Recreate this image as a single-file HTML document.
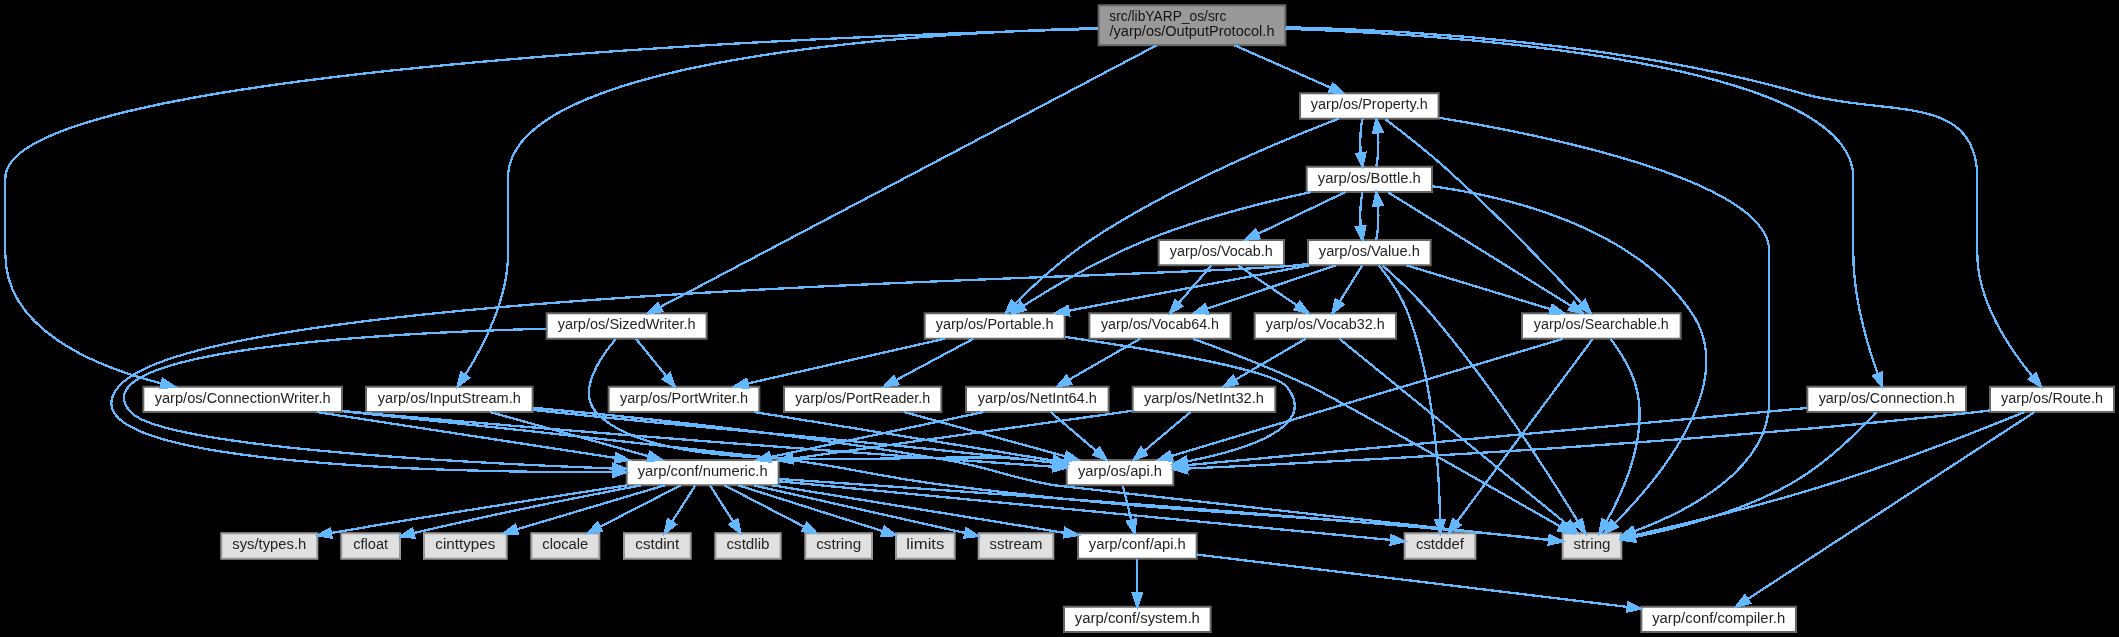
<!DOCTYPE html>
<html><head><meta charset="utf-8"><title>OutputProtocol.h include graph</title>
<style>html,body{margin:0;padding:0;background:#000;overflow:hidden}svg{display:block} text{opacity:0.999} svg{will-change:transform}</style></head>
<body><svg width="2119" height="637" viewBox="0 0 2119 637">
<rect x="0" y="0" width="2119" height="637" fill="#000"/>
<g id="graph0" class="graph" transform="scale(1.333333) translate(4 474)" shape-rendering="crispEdges" stroke-width="1.725">
<g shape-rendering="auto" stroke-width="1.5" id="node1" class="node">
<polygon fill="#999999" stroke="#666666" points="960,-470 820,-470 820,-440 960,-440 960,-470"/>
<text text-anchor="start" x="828" y="-458" font-family="Liberation Sans, sans-serif" font-size="10.90" fill="#141414" textLength="87.75" lengthAdjust="spacingAndGlyphs">src/libYARP_os/src</text>
<text text-anchor="middle" x="890" y="-447" font-family="Liberation Sans, sans-serif" font-size="10.90" fill="#141414" textLength="123.75" lengthAdjust="spacingAndGlyphs">/yarp/os/OutputProtocol.h</text>
</g>
<g shape-rendering="auto" stroke-width="1.5" id="node2" class="node">
<polygon fill="white" stroke="#666666" points="1470.5,-184 1351.5,-184 1351.5,-165 1470.5,-165 1470.5,-184"/>
<text text-anchor="middle" x="1411" y="-172" font-family="Liberation Sans, sans-serif" font-size="10.90" fill="#242424" textLength="102.00" lengthAdjust="spacingAndGlyphs">yarp/os/Connection.h</text>
</g>
<g id="edge1" class="edge">
<path fill="none" stroke="#63b8ff" d="M960.01,-452.45C1096.74,-447.51 1386,-426.85 1386,-340.5 1386,-340.5 1386,-340.5 1386,-283.5 1386,-251.21 1396.74,-214.86 1404.14,-193.64"/>
<polygon fill="#63b8ff" stroke="#63b8ff" points="1407.51,-194.62 1407.63,-184.02 1400.93,-192.23 1407.51,-194.62"/>
</g>
<g shape-rendering="auto" stroke-width="1.5" id="node8" class="node">
<polygon fill="white" stroke="#666666" points="252.5,-184 103.5,-184 103.5,-165 252.5,-165 252.5,-184"/>
<text text-anchor="middle" x="178" y="-172" font-family="Liberation Sans, sans-serif" font-size="10.90" fill="#242424" textLength="132.00" lengthAdjust="spacingAndGlyphs">yarp/os/ConnectionWriter.h</text>
</g>
<g id="edge7" class="edge">
<path fill="none" stroke="#63b8ff" d="M819.79,-452.4C609.63,-446.69 0,-423.01 0,-340.5 0,-340.5 0,-340.5 0,-283.5 0,-227.3 65.66,-199.53 117.22,-186.38"/>
<polygon fill="#63b8ff" stroke="#63b8ff" points="118.1,-189.77 126.99,-184.02 116.45,-182.97 118.1,-189.77"/>
</g>
<g shape-rendering="auto" stroke-width="1.5" id="node20" class="node">
<polygon fill="white" stroke="#666666" points="395.5,-184 270.5,-184 270.5,-165 395.5,-165 395.5,-184"/>
<text text-anchor="middle" x="333" y="-172" font-family="Liberation Sans, sans-serif" font-size="10.90" fill="#242424" textLength="107.25" lengthAdjust="spacingAndGlyphs">yarp/os/InputStream.h</text>
</g>
<g id="edge23" class="edge">
<path fill="none" stroke="#63b8ff" d="M819.75,-452.98C679.25,-449.03 377,-430.12 377,-340.5 377,-340.5 377,-340.5 377,-283.5 377,-249.42 357.97,-213.46 344.94,-192.83"/>
<polygon fill="#63b8ff" stroke="#63b8ff" points="347.72,-190.68 339.3,-184.25 341.87,-194.53 347.72,-190.68"/>
</g>
<g shape-rendering="auto" stroke-width="1.5" id="node21" class="node">
<polygon fill="white" stroke="#666666" points="1075,-404 971,-404 971,-385 1075,-385 1075,-404"/>
<text text-anchor="middle" x="1023" y="-392" font-family="Liberation Sans, sans-serif" font-size="10.90" fill="#242424" textLength="87.75" lengthAdjust="spacingAndGlyphs">yarp/os/Property.h</text>
</g>
<g id="edge27" class="edge">
<path fill="none" stroke="#63b8ff" d="M921.86,-439.99C943.85,-430.31 972.85,-417.56 994.16,-408.18"/>
<polygon fill="#63b8ff" stroke="#63b8ff" points="995.61,-411.37 1003.36,-404.14 992.8,-404.96 995.61,-411.37"/>
</g>
<g shape-rendering="auto" stroke-width="1.5" id="node33" class="node">
<polygon fill="white" stroke="#666666" points="1581.5,-184 1488.5,-184 1488.5,-165 1581.5,-165 1581.5,-184"/>
<text text-anchor="middle" x="1535" y="-172" font-family="Liberation Sans, sans-serif" font-size="10.90" fill="#242424" textLength="76.50" lengthAdjust="spacingAndGlyphs">yarp/os/Route.h</text>
</g>
<g id="edge64" class="edge">
<path fill="none" stroke="#63b8ff" d="M960.31,-453.64C1051.28,-451.52 1213.87,-442.09 1347,-404 1409.59,-386.09 1479,-405.6 1479,-340.5 1479,-340.5 1479,-340.5 1479,-283.5 1479,-247.65 1503.62,-211.86 1520.21,-191.81"/>
<polygon fill="#63b8ff" stroke="#63b8ff" points="1522.87,-194.09 1526.74,-184.23 1517.56,-189.52 1522.87,-194.09"/>
</g>
<g shape-rendering="auto" stroke-width="1.5" id="node34" class="node">
<polygon fill="white" stroke="#666666" points="526,-239 406,-239 406,-220 526,-220 526,-239"/>
<text text-anchor="middle" x="466" y="-227" font-family="Liberation Sans, sans-serif" font-size="10.90" fill="#242424" textLength="103.50" lengthAdjust="spacingAndGlyphs">yarp/os/SizedWriter.h</text>
</g>
<g id="edge68" class="edge">
<path fill="none" stroke="#63b8ff" d="M863.16,-439.85C786.33,-399.35 566.29,-283.37 491.35,-243.86"/>
<polygon fill="#63b8ff" stroke="#63b8ff" points="492.64,-240.59 482.16,-239.02 489.38,-246.78 492.64,-240.59"/>
</g>
<g shape-rendering="auto" stroke-width="1.5" id="node3" class="node">
<polygon fill="white" stroke="#666666" points="876,-129 796,-129 796,-110 876,-110 876,-129"/>
<text text-anchor="middle" x="836" y="-117" font-family="Liberation Sans, sans-serif" font-size="10.90" fill="#242424" textLength="63.00" lengthAdjust="spacingAndGlyphs">yarp/os/api.h</text>
</g>
<g id="edge2" class="edge">
<path fill="none" stroke="#63b8ff" d="M1351.36,-168C1237.79,-157.53 992.34,-134.91 886.39,-125.14"/>
<polygon fill="#63b8ff" stroke="#63b8ff" points="886.56,-121.65 876.28,-124.21 885.91,-128.62 886.56,-121.65"/>
</g>
<g shape-rendering="auto" stroke-width="1.5" id="node7" class="node">
<polygon fill="#e0e0e0" stroke="#999999" points="1212,-74 1168,-74 1168,-55 1212,-55 1212,-74"/>
<text text-anchor="middle" x="1190" y="-62" font-family="Liberation Sans, sans-serif" font-size="10.90" fill="#242424" textLength="27.75" lengthAdjust="spacingAndGlyphs">string</text>
</g>
<g id="edge6" class="edge">
<path fill="none" stroke="#63b8ff" d="M1403.21,-164.81C1390.59,-151.23 1364.31,-124.98 1337,-110 1300.19,-89.82 1253.06,-77.63 1222.22,-71.23"/>
<polygon fill="#63b8ff" stroke="#63b8ff" points="1222.53,-67.73 1212.04,-69.21 1221.16,-74.59 1222.53,-67.73"/>
</g>
<g shape-rendering="auto" stroke-width="1.5" id="node4" class="node">
<polygon fill="white" stroke="#666666" points="893.5,-74 804.5,-74 804.5,-55 893.5,-55 893.5,-74"/>
<text text-anchor="middle" x="849" y="-62" font-family="Liberation Sans, sans-serif" font-size="10.90" fill="#242424" textLength="72.75" lengthAdjust="spacingAndGlyphs">yarp/conf/api.h</text>
</g>
<g id="edge3" class="edge">
<path fill="none" stroke="#63b8ff" d="M838.15,-109.75C839.87,-102.72 842.35,-92.62 844.5,-83.84"/>
<polygon fill="#63b8ff" stroke="#63b8ff" points="847.91,-84.63 846.89,-74.09 841.11,-82.97 847.91,-84.63"/>
</g>
<g shape-rendering="auto" stroke-width="1.5" id="node5" class="node">
<polygon fill="white" stroke="#666666" points="904,-19 794,-19 794,0 904,0 904,-19"/>
<text text-anchor="middle" x="849" y="-7" font-family="Liberation Sans, sans-serif" font-size="10.90" fill="#242424" textLength="93.75" lengthAdjust="spacingAndGlyphs">yarp/conf/system.h</text>
</g>
<g id="edge4" class="edge">
<path fill="none" stroke="#63b8ff" d="M849,-54.75C849,-47.8 849,-37.85 849,-29.13"/>
<polygon fill="#63b8ff" stroke="#63b8ff" points="852.5,-29.09 849,-19.09 845.5,-29.09 852.5,-29.09"/>
</g>
<g shape-rendering="auto" stroke-width="1.5" id="node6" class="node">
<polygon fill="white" stroke="#666666" points="1343,-19 1227,-19 1227,0 1343,0 1343,-19"/>
<text text-anchor="middle" x="1285" y="-7" font-family="Liberation Sans, sans-serif" font-size="10.90" fill="#242424" textLength="99.75" lengthAdjust="spacingAndGlyphs">yarp/conf/compiler.h</text>
</g>
<g id="edge5" class="edge">
<path fill="none" stroke="#63b8ff" d="M893.61,-58.08C969.99,-48.79 1126.29,-29.79 1216.56,-18.82"/>
<polygon fill="#63b8ff" stroke="#63b8ff" points="1217.19,-22.27 1226.69,-17.59 1216.34,-15.32 1217.19,-22.27"/>
</g>
<g id="edge21" class="edge">
<path fill="none" stroke="#63b8ff" d="M252.65,-165.77C255.47,-165.5 258.26,-165.25 261,-165 454.83,-147.58 685.8,-130.96 785.77,-123.97"/>
<polygon fill="#63b8ff" stroke="#63b8ff" points="786.16,-127.45 795.89,-123.26 785.67,-120.46 786.16,-127.45"/>
</g>
<g id="edge22" class="edge">
<path fill="none" stroke="#63b8ff" d="M252.61,-165.64C362.03,-154.08 556.59,-133.38 589,-129 641.21,-121.94 653.73,-116.56 706,-110 885.3,-87.5 931.16,-91.67 1111,-74 1126.32,-72.5 1143.29,-70.69 1157.56,-69.13"/>
<polygon fill="#63b8ff" stroke="#63b8ff" points="1158.32,-72.56 1167.88,-67.99 1157.55,-65.61 1158.32,-72.56"/>
</g>
<g shape-rendering="auto" stroke-width="1.5" id="node9" class="node">
<polygon fill="white" stroke="#666666" points="580,-129 466,-129 466,-110 580,-110 580,-129"/>
<text text-anchor="middle" x="523" y="-117" font-family="Liberation Sans, sans-serif" font-size="10.90" fill="#242424" textLength="97.50" lengthAdjust="spacingAndGlyphs">yarp/conf/numeric.h</text>
</g>
<g id="edge8" class="edge">
<path fill="none" stroke="#63b8ff" d="M233.43,-164.98C294.45,-155.61 392.48,-140.55 457.31,-130.59"/>
<polygon fill="#63b8ff" stroke="#63b8ff" points="458.07,-134.02 467.42,-129.04 457.01,-127.1 458.07,-134.02"/>
</g>
<g id="edge9" class="edge">
<path fill="none" stroke="#63b8ff" d="M575.38,-109.98C635.35,-100.23 733.16,-84.33 794.15,-74.42"/>
<polygon fill="#63b8ff" stroke="#63b8ff" points="795.04,-77.82 804.35,-72.76 793.92,-70.91 795.04,-77.82"/>
</g>
<g id="edge20" class="edge">
<path fill="none" stroke="#63b8ff" d="M580.23,-114.77C685.41,-107.79 916.53,-91.82 1111,-74 1126.33,-72.6 1143.3,-70.8 1157.57,-69.22"/>
<polygon fill="#63b8ff" stroke="#63b8ff" points="1158.34,-72.66 1167.88,-68.07 1157.56,-65.7 1158.34,-72.66"/>
</g>
<g shape-rendering="auto" stroke-width="1.5" id="node10" class="node">
<polygon fill="#e0e0e0" stroke="#999999" points="234,-74 162,-74 162,-55 234,-55 234,-74"/>
<text text-anchor="middle" x="198" y="-62" font-family="Liberation Sans, sans-serif" font-size="10.90" fill="#242424" textLength="55.50" lengthAdjust="spacingAndGlyphs">sys/types.h</text>
</g>
<g id="edge10" class="edge">
<path fill="none" stroke="#63b8ff" d="M466.34,-109.99C411.94,-101.71 327.17,-88.51 244.41,-74.21"/>
<polygon fill="#63b8ff" stroke="#63b8ff" points="244.78,-70.72 234.33,-72.46 243.59,-77.62 244.78,-70.72"/>
</g>
<g shape-rendering="auto" stroke-width="1.5" id="node11" class="node">
<polygon fill="#e0e0e0" stroke="#999999" points="296,-74 252,-74 252,-55 296,-55 296,-74"/>
<text text-anchor="middle" x="274" y="-62" font-family="Liberation Sans, sans-serif" font-size="10.90" fill="#242424" textLength="26.25" lengthAdjust="spacingAndGlyphs">cfloat</text>
</g>
<g id="edge11" class="edge">
<path fill="none" stroke="#63b8ff" d="M476.45,-109.92C434.34,-101.96 370.42,-89.35 306.2,-74.16"/>
<polygon fill="#63b8ff" stroke="#63b8ff" points="306.84,-70.72 296.31,-71.81 305.22,-77.53 306.84,-70.72"/>
</g>
<g shape-rendering="auto" stroke-width="1.5" id="node12" class="node">
<polygon fill="#e0e0e0" stroke="#999999" points="376,-74 314,-74 314,-55 376,-55 376,-74"/>
<text text-anchor="middle" x="345" y="-62" font-family="Liberation Sans, sans-serif" font-size="10.90" fill="#242424" textLength="45.00" lengthAdjust="spacingAndGlyphs">cinttypes</text>
</g>
<g id="edge12" class="edge">
<path fill="none" stroke="#63b8ff" d="M494.4,-109.98C464.39,-101.05 417.02,-86.94 383.68,-77.02"/>
<polygon fill="#63b8ff" stroke="#63b8ff" points="384.41,-73.58 373.82,-74.08 382.41,-80.29 384.41,-73.58"/>
</g>
<g shape-rendering="auto" stroke-width="1.5" id="node13" class="node">
<polygon fill="#e0e0e0" stroke="#999999" points="445.5,-74 394.5,-74 394.5,-55 445.5,-55 445.5,-74"/>
<text text-anchor="middle" x="420" y="-62" font-family="Liberation Sans, sans-serif" font-size="10.90" fill="#242424" textLength="34.50" lengthAdjust="spacingAndGlyphs">clocale</text>
</g>
<g id="edge13" class="edge">
<path fill="none" stroke="#63b8ff" d="M506.45,-109.98C490.11,-101.57 464.87,-88.59 445.87,-78.81"/>
<polygon fill="#63b8ff" stroke="#63b8ff" points="447.34,-75.63 436.85,-74.17 444.14,-81.86 447.34,-75.63"/>
</g>
<g shape-rendering="auto" stroke-width="1.5" id="node14" class="node">
<polygon fill="#e0e0e0" stroke="#999999" points="1102.5,-74 1049.5,-74 1049.5,-55 1102.5,-55 1102.5,-74"/>
<text text-anchor="middle" x="1076" y="-62" font-family="Liberation Sans, sans-serif" font-size="10.90" fill="#242424" textLength="36.00" lengthAdjust="spacingAndGlyphs">cstddef</text>
</g>
<g id="edge14" class="edge">
<path fill="none" stroke="#63b8ff" d="M580.1,-113.03C693.56,-102.15 944.58,-78.1 1039.07,-69.04"/>
<polygon fill="#63b8ff" stroke="#63b8ff" points="1039.66,-72.5 1049.28,-68.06 1038.99,-65.53 1039.66,-72.5"/>
</g>
<g shape-rendering="auto" stroke-width="1.5" id="node15" class="node">
<polygon fill="#e0e0e0" stroke="#999999" points="514,-74 464,-74 464,-55 514,-55 514,-74"/>
<text text-anchor="middle" x="489" y="-62" font-family="Liberation Sans, sans-serif" font-size="10.90" fill="#242424" textLength="33.00" lengthAdjust="spacingAndGlyphs">cstdint</text>
</g>
<g id="edge15" class="edge">
<path fill="none" stroke="#63b8ff" d="M517.39,-109.75C512.68,-102.42 505.83,-91.73 500.03,-82.7"/>
<polygon fill="#63b8ff" stroke="#63b8ff" points="502.86,-80.62 494.51,-74.09 496.96,-84.4 502.86,-80.62"/>
</g>
<g shape-rendering="auto" stroke-width="1.5" id="node16" class="node">
<polygon fill="#e0e0e0" stroke="#999999" points="581.5,-74 532.5,-74 532.5,-55 581.5,-55 581.5,-74"/>
<text text-anchor="middle" x="557" y="-62" font-family="Liberation Sans, sans-serif" font-size="10.90" fill="#242424" textLength="32.25" lengthAdjust="spacingAndGlyphs">cstdlib</text>
</g>
<g id="edge16" class="edge">
<path fill="none" stroke="#63b8ff" d="M528.61,-109.75C533.32,-102.42 540.17,-91.73 545.97,-82.7"/>
<polygon fill="#63b8ff" stroke="#63b8ff" points="549.04,-84.4 551.49,-74.09 543.14,-80.62 549.04,-84.4"/>
</g>
<g shape-rendering="auto" stroke-width="1.5" id="node17" class="node">
<polygon fill="#e0e0e0" stroke="#999999" points="650,-74 600,-74 600,-55 650,-55 650,-74"/>
<text text-anchor="middle" x="625" y="-62" font-family="Liberation Sans, sans-serif" font-size="10.90" fill="#242424" textLength="33.75" lengthAdjust="spacingAndGlyphs">cstring</text>
</g>
<g id="edge17" class="edge">
<path fill="none" stroke="#63b8ff" d="M539.39,-109.98C555.57,-101.57 580.57,-88.59 599.38,-78.81"/>
<polygon fill="#63b8ff" stroke="#63b8ff" points="601.05,-81.89 608.31,-74.17 597.83,-75.68 601.05,-81.89"/>
</g>
<g shape-rendering="auto" stroke-width="1.5" id="node18" class="node">
<polygon fill="#e0e0e0" stroke="#999999" points="712,-74 668,-74 668,-55 712,-55 712,-74"/>
<text text-anchor="middle" x="690" y="-62" font-family="Liberation Sans, sans-serif" font-size="10.90" fill="#242424" textLength="28.50" lengthAdjust="spacingAndGlyphs">limits</text>
</g>
<g id="edge18" class="edge">
<path fill="none" stroke="#63b8ff" d="M549.83,-109.98C579.37,-100.61 626.81,-85.55 658.19,-75.59"/>
<polygon fill="#63b8ff" stroke="#63b8ff" points="659.3,-78.91 667.78,-72.55 657.19,-72.24 659.3,-78.91"/>
</g>
<g shape-rendering="auto" stroke-width="1.5" id="node19" class="node">
<polygon fill="#e0e0e0" stroke="#999999" points="786,-74 730,-74 730,-55 786,-55 786,-74"/>
<text text-anchor="middle" x="758" y="-62" font-family="Liberation Sans, sans-serif" font-size="10.90" fill="#242424" textLength="39.75" lengthAdjust="spacingAndGlyphs">sstream</text>
</g>
<g id="edge19" class="edge">
<path fill="none" stroke="#63b8ff" d="M561.34,-109.94C599.21,-101.47 659.05,-88.06 719.94,-74.23"/>
<polygon fill="#63b8ff" stroke="#63b8ff" points="720.75,-77.64 729.72,-72.01 719.19,-70.81 720.75,-77.64"/>
</g>
<g id="edge25" class="edge">
<path fill="none" stroke="#63b8ff" d="M395.61,-166.54C400.48,-166.01 405.32,-165.49 410,-165 569.47,-148.2 609.67,-147.09 769,-129 774.46,-128.38 780.17,-127.7 785.85,-127.01"/>
<polygon fill="#63b8ff" stroke="#63b8ff" points="786.49,-130.46 795.99,-125.75 785.63,-123.51 786.49,-130.46"/>
</g>
<g id="edge26" class="edge">
<path fill="none" stroke="#63b8ff" d="M395.68,-168.18C470.05,-161.37 597.62,-148.11 706,-129 742.42,-122.58 750.56,-116.26 787,-110 796.14,-108.43 1063.67,-79.25 1157.7,-69.01"/>
<polygon fill="#63b8ff" stroke="#63b8ff" points="1158.21,-72.48 1167.77,-67.92 1157.45,-65.52 1158.21,-72.48"/>
</g>
<g id="edge24" class="edge">
<path fill="none" stroke="#63b8ff" d="M363.53,-164.98C395.7,-156.01 446.56,-141.82 482.17,-131.89"/>
<polygon fill="#63b8ff" stroke="#63b8ff" points="483.54,-135.14 492.23,-129.08 481.66,-128.4 483.54,-135.14"/>
</g>
<g id="edge63" class="edge">
<path fill="none" stroke="#63b8ff" d="M1075.26,-385.7C1161.21,-371.39 1323,-337.53 1323,-285.5 1323,-285.5 1323,-285.5 1323,-173.5 1323,-121.54 1261.07,-90.2 1221.72,-75.54"/>
<polygon fill="#63b8ff" stroke="#63b8ff" points="1222.86,-72.23 1212.26,-72.17 1220.51,-78.82 1222.86,-72.23"/>
</g>
<g shape-rendering="auto" stroke-width="1.5" id="node22" class="node">
<polygon fill="white" stroke="#666666" points="1070,-349 976,-349 976,-330 1070,-330 1070,-349"/>
<text text-anchor="middle" x="1023" y="-337" font-family="Liberation Sans, sans-serif" font-size="10.90" fill="#242424" textLength="77.25" lengthAdjust="spacingAndGlyphs">yarp/os/Bottle.h</text>
</g>
<g id="edge28" class="edge">
<path fill="none" stroke="#63b8ff" d="M1017.83,-384.75C1016.34,-377.8 1015.9,-367.85 1016.52,-359.13"/>
<polygon fill="#63b8ff" stroke="#63b8ff" points="1020.01,-359.47 1017.87,-349.09 1013.07,-358.53 1020.01,-359.47"/>
</g>
<g shape-rendering="auto" stroke-width="1.5" id="node23" class="node">
<polygon fill="white" stroke="#666666" points="794.5,-239 689.5,-239 689.5,-220 794.5,-220 794.5,-239"/>
<text text-anchor="middle" x="742" y="-227" font-family="Liberation Sans, sans-serif" font-size="10.90" fill="#242424" textLength="88.50" lengthAdjust="spacingAndGlyphs">yarp/os/Portable.h</text>
</g>
<g id="edge61" class="edge">
<path fill="none" stroke="#63b8ff" d="M999.94,-384.98C960.21,-369.78 877.05,-335.63 814,-294 792.84,-280.03 771.4,-260.24 757.49,-246.48"/>
<polygon fill="#63b8ff" stroke="#63b8ff" points="759.75,-243.79 750.22,-239.16 754.79,-248.72 759.75,-243.79"/>
</g>
<g shape-rendering="auto" stroke-width="1.5" id="node26" class="node">
<polygon fill="white" stroke="#666666" points="1256.5,-239 1137.5,-239 1137.5,-220 1256.5,-220 1256.5,-239"/>
<text text-anchor="middle" x="1197" y="-227" font-family="Liberation Sans, sans-serif" font-size="10.90" fill="#242424" textLength="101.25" lengthAdjust="spacingAndGlyphs">yarp/os/Searchable.h</text>
</g>
<g id="edge62" class="edge">
<path fill="none" stroke="#63b8ff" d="M1034.91,-384.68C1046.47,-375.96 1064.37,-362.08 1079,-349 1117.92,-314.21 1160.38,-269.83 1182.2,-246.5"/>
<polygon fill="#63b8ff" stroke="#63b8ff" points="1184.77,-248.88 1189.02,-239.17 1179.65,-244.11 1184.77,-248.88"/>
</g>
<g id="edge60" class="edge">
<path fill="none" stroke="#63b8ff" d="M1070.02,-334.36C1127.21,-326.51 1221.51,-303.91 1265,-239 1300.53,-185.97 1238.77,-113.36 1207.05,-81.54"/>
<polygon fill="#63b8ff" stroke="#63b8ff" points="1209.31,-78.85 1199.71,-74.37 1204.41,-83.86 1209.31,-78.85"/>
</g>
<g id="edge35" class="edge">
<path fill="none" stroke="#63b8ff" d="M1028.13,-349.09C1029.64,-355.99 1030.09,-365.93 1029.49,-374.66"/>
<polygon fill="#63b8ff" stroke="#63b8ff" points="1026,-374.38 1028.17,-384.75 1032.94,-375.29 1026,-374.38"/>
</g>
<g id="edge29" class="edge">
<path fill="none" stroke="#63b8ff" d="M979.14,-329.93C944.89,-322.51 896.47,-310.37 856,-294 822.19,-280.32 785.81,-258.73 763.48,-244.59"/>
<polygon fill="#63b8ff" stroke="#63b8ff" points="765.12,-241.49 754.81,-239.03 761.34,-247.38 765.12,-241.49"/>
</g>
<g id="edge36" class="edge">
<path fill="none" stroke="#63b8ff" d="M1036.95,-329.84C1066.85,-311.28 1137.41,-267.49 1174.04,-244.75"/>
<polygon fill="#63b8ff" stroke="#63b8ff" points="1176.34,-247.44 1182.99,-239.2 1172.65,-241.5 1176.34,-247.44"/>
</g>
<g shape-rendering="auto" stroke-width="1.5" id="node27" class="node">
<polygon fill="white" stroke="#666666" points="1069,-294 977,-294 977,-275 1069,-275 1069,-294"/>
<text text-anchor="middle" x="1023" y="-282" font-family="Liberation Sans, sans-serif" font-size="10.90" fill="#242424" textLength="75.75" lengthAdjust="spacingAndGlyphs">yarp/os/Value.h</text>
</g>
<g id="edge40" class="edge">
<path fill="none" stroke="#63b8ff" d="M1017.83,-329.75C1016.34,-322.8 1015.9,-312.85 1016.52,-304.13"/>
<polygon fill="#63b8ff" stroke="#63b8ff" points="1020.01,-304.47 1017.87,-294.09 1013.07,-303.53 1020.01,-304.47"/>
</g>
<g shape-rendering="auto" stroke-width="1.5" id="node32" class="node">
<polygon fill="white" stroke="#666666" points="959,-294 865,-294 865,-275 959,-275 959,-294"/>
<text text-anchor="middle" x="912" y="-282" font-family="Liberation Sans, sans-serif" font-size="10.90" fill="#242424" textLength="77.25" lengthAdjust="spacingAndGlyphs">yarp/os/Vocab.h</text>
</g>
<g id="edge57" class="edge">
<path fill="none" stroke="#63b8ff" d="M1005.17,-329.98C987.39,-321.5 959.85,-308.35 939.32,-298.54"/>
<polygon fill="#63b8ff" stroke="#63b8ff" points="940.69,-295.32 930.16,-294.17 937.67,-301.64 940.69,-295.32"/>
</g>
<g id="edge30" class="edge">
<path fill="none" stroke="#63b8ff" d="M794.66,-221.33C856.04,-212.43 950.49,-196.86 961,-184 985.63,-153.86 930.72,-136.6 886.03,-127.88"/>
<polygon fill="#63b8ff" stroke="#63b8ff" points="886.57,-124.43 876.1,-126.05 885.3,-131.31 886.57,-124.43"/>
</g>
<g shape-rendering="auto" stroke-width="1.5" id="node24" class="node">
<polygon fill="white" stroke="#666666" points="702,-184 584,-184 584,-165 702,-165 702,-184"/>
<text text-anchor="middle" x="643" y="-172" font-family="Liberation Sans, sans-serif" font-size="10.90" fill="#242424" textLength="101.25" lengthAdjust="spacingAndGlyphs">yarp/os/PortReader.h</text>
</g>
<g id="edge31" class="edge">
<path fill="none" stroke="#63b8ff" d="M726.09,-219.98C710.45,-211.61 686.34,-198.7 668.12,-188.95"/>
<polygon fill="#63b8ff" stroke="#63b8ff" points="669.66,-185.8 659.2,-184.17 666.36,-191.98 669.66,-185.8"/>
</g>
<g shape-rendering="auto" stroke-width="1.5" id="node25" class="node">
<polygon fill="white" stroke="#666666" points="565.5,-184 452.5,-184 452.5,-165 565.5,-165 565.5,-184"/>
<text text-anchor="middle" x="509" y="-172" font-family="Liberation Sans, sans-serif" font-size="10.90" fill="#242424" textLength="96.00" lengthAdjust="spacingAndGlyphs">yarp/os/PortWriter.h</text>
</g>
<g id="edge33" class="edge">
<path fill="none" stroke="#63b8ff" d="M704.56,-219.98C664.35,-210.84 600.32,-196.27 556.56,-186.32"/>
<polygon fill="#63b8ff" stroke="#63b8ff" points="557.26,-182.89 546.73,-184.08 555.7,-189.71 557.26,-182.89"/>
</g>
<g id="edge32" class="edge">
<path fill="none" stroke="#63b8ff" d="M674.01,-164.98C706.83,-155.97 758.8,-141.7 794.99,-131.76"/>
<polygon fill="#63b8ff" stroke="#63b8ff" points="796.03,-135.11 804.75,-129.08 794.18,-128.36 796.03,-135.11"/>
</g>
<g id="edge34" class="edge">
<path fill="none" stroke="#63b8ff" d="M561.54,-164.98C623.32,-154.97 725.12,-138.47 785.85,-128.63"/>
<polygon fill="#63b8ff" stroke="#63b8ff" points="786.65,-132.04 795.96,-126.99 785.53,-125.13 786.65,-132.04"/>
</g>
<g id="edge37" class="edge">
<path fill="none" stroke="#63b8ff" d="M1168.37,-219.94C1103.87,-200.64 947.12,-153.74 874.33,-131.97"/>
<polygon fill="#63b8ff" stroke="#63b8ff" points="875.22,-128.58 864.63,-129.07 873.21,-135.29 875.22,-128.58"/>
</g>
<g id="edge39" class="edge">
<path fill="none" stroke="#63b8ff" d="M1203.89,-219.93C1210.27,-211.4 1219.31,-197.65 1223,-184 1232.77,-147.93 1213.76,-105.8 1200.75,-82.75"/>
<polygon fill="#63b8ff" stroke="#63b8ff" points="1203.75,-80.94 1195.65,-74.11 1197.72,-84.5 1203.75,-80.94"/>
</g>
<g id="edge38" class="edge">
<path fill="none" stroke="#63b8ff" d="M1190.49,-219.74C1171.21,-193.76 1114.1,-116.83 1088.57,-82.44"/>
<polygon fill="#63b8ff" stroke="#63b8ff" points="1091.31,-80.25 1082.54,-74.31 1085.69,-84.42 1091.31,-80.25"/>
</g>
<g id="edge56" class="edge">
<path fill="none" stroke="#63b8ff" d="M1033.06,-274.8C1042.76,-266.18 1057.62,-252.37 1069,-239 1114.53,-185.54 1159.55,-115.14 1179.42,-82.94"/>
<polygon fill="#63b8ff" stroke="#63b8ff" points="1182.52,-84.59 1184.76,-74.23 1176.55,-80.93 1182.52,-84.59"/>
</g>
<g id="edge41" class="edge">
<path fill="none" stroke="#63b8ff" d="M976.83,-276.05C973.84,-275.67 970.88,-275.31 968,-275 869.95,-264.35 148.4,-259.55 85,-184 36.44,-126.13 320.87,-119.7 455.41,-119.82"/>
<polygon fill="#63b8ff" stroke="#63b8ff" points="455.61,-123.33 465.62,-119.85 455.62,-116.33 455.61,-123.33"/>
</g>
<g id="edge55" class="edge">
<path fill="none" stroke="#63b8ff" d="M1030.25,-274.93C1037.05,-266.4 1046.9,-252.65 1052,-239 1072,-185.47 1075.57,-117.04 1076.05,-84.43"/>
<polygon fill="#63b8ff" stroke="#63b8ff" points="1079.56,-84.15 1076.12,-74.13 1072.56,-84.1 1079.56,-84.15"/>
</g>
<g id="edge42" class="edge">
<path fill="none" stroke="#63b8ff" d="M1028.13,-294.09C1029.64,-300.99 1030.09,-310.93 1029.49,-319.66"/>
<polygon fill="#63b8ff" stroke="#63b8ff" points="1026,-319.38 1028.17,-329.75 1032.94,-320.29 1026,-319.38"/>
</g>
<g id="edge43" class="edge">
<path fill="none" stroke="#63b8ff" d="M977.85,-274.98C928.74,-265.72 850.18,-250.9 797.38,-240.94"/>
<polygon fill="#63b8ff" stroke="#63b8ff" points="797.98,-237.5 787.5,-239.08 796.68,-244.37 797.98,-237.5"/>
</g>
<g id="edge44" class="edge">
<path fill="none" stroke="#63b8ff" d="M1050.96,-274.98C1080.3,-266.05 1126.6,-251.94 1159.19,-242.02"/>
<polygon fill="#63b8ff" stroke="#63b8ff" points="1160.28,-245.34 1168.82,-239.08 1158.24,-238.65 1160.28,-245.34"/>
</g>
<g shape-rendering="auto" stroke-width="1.5" id="node28" class="node">
<polygon fill="white" stroke="#666666" points="1043,-239 937,-239 937,-220 1043,-220 1043,-239"/>
<text text-anchor="middle" x="990" y="-227" font-family="Liberation Sans, sans-serif" font-size="10.90" fill="#242424" textLength="89.25" lengthAdjust="spacingAndGlyphs">yarp/os/Vocab32.h</text>
</g>
<g id="edge45" class="edge">
<path fill="none" stroke="#63b8ff" d="M1017.55,-274.75C1012.99,-267.42 1006.33,-256.73 1000.71,-247.7"/>
<polygon fill="#63b8ff" stroke="#63b8ff" points="1003.6,-245.73 995.35,-239.09 997.66,-249.43 1003.6,-245.73"/>
</g>
<g shape-rendering="auto" stroke-width="1.5" id="node30" class="node">
<polygon fill="white" stroke="#666666" points="919,-239 813,-239 813,-220 919,-220 919,-239"/>
<text text-anchor="middle" x="866" y="-227" font-family="Liberation Sans, sans-serif" font-size="10.90" fill="#242424" textLength="88.50" lengthAdjust="spacingAndGlyphs">yarp/os/Vocab64.h</text>
</g>
<g id="edge50" class="edge">
<path fill="none" stroke="#63b8ff" d="M997.78,-274.98C971.64,-266.16 930.6,-252.31 901.27,-242.41"/>
<polygon fill="#63b8ff" stroke="#63b8ff" points="902.02,-238.96 891.42,-239.08 899.78,-245.6 902.02,-238.96"/>
</g>
<g id="edge49" class="edge">
<path fill="none" stroke="#63b8ff" d="M1000.47,-219.97C1032.59,-193.79 1130.01,-114.39 1171.24,-80.79"/>
<polygon fill="#63b8ff" stroke="#63b8ff" points="1173.61,-83.38 1179.15,-74.34 1169.18,-77.95 1173.61,-83.38"/>
</g>
<g shape-rendering="auto" stroke-width="1.5" id="node29" class="node">
<polygon fill="white" stroke="#666666" points="952.5,-184 845.5,-184 845.5,-165 952.5,-165 952.5,-184"/>
<text text-anchor="middle" x="899" y="-172" font-family="Liberation Sans, sans-serif" font-size="10.90" fill="#242424" textLength="90.00" lengthAdjust="spacingAndGlyphs">yarp/os/NetInt32.h</text>
</g>
<g id="edge46" class="edge">
<path fill="none" stroke="#63b8ff" d="M975.38,-219.98C961.14,-211.69 939.25,-198.94 922.55,-189.22"/>
<polygon fill="#63b8ff" stroke="#63b8ff" points="924.29,-186.18 913.89,-184.17 920.77,-192.23 924.29,-186.18"/>
</g>
<g id="edge48" class="edge">
<path fill="none" stroke="#63b8ff" d="M888.88,-164.98C879.56,-157.15 865.53,-145.34 854.26,-135.86"/>
<polygon fill="#63b8ff" stroke="#63b8ff" points="856.21,-132.93 846.31,-129.17 851.71,-138.29 856.21,-132.93"/>
</g>
<g id="edge47" class="edge">
<path fill="none" stroke="#63b8ff" d="M845.13,-165.91C777.93,-156.43 663.02,-140.24 590.15,-129.97"/>
<polygon fill="#63b8ff" stroke="#63b8ff" points="590.55,-126.49 580.16,-128.56 589.57,-133.42 590.55,-126.49"/>
</g>
<g id="edge54" class="edge">
<path fill="none" stroke="#63b8ff" d="M890.66,-219.89C913.83,-211.55 949.29,-198.11 979,-184 997.89,-175.03 1115.03,-108.33 1166.17,-79.13"/>
<polygon fill="#63b8ff" stroke="#63b8ff" points="1167.96,-82.13 1174.91,-74.13 1164.49,-76.05 1167.96,-82.13"/>
</g>
<g shape-rendering="auto" stroke-width="1.5" id="node31" class="node">
<polygon fill="white" stroke="#666666" points="827.5,-184 720.5,-184 720.5,-165 827.5,-165 827.5,-184"/>
<text text-anchor="middle" x="774" y="-172" font-family="Liberation Sans, sans-serif" font-size="10.90" fill="#242424" textLength="89.25" lengthAdjust="spacingAndGlyphs">yarp/os/NetInt64.h</text>
</g>
<g id="edge51" class="edge">
<path fill="none" stroke="#63b8ff" d="M851.22,-219.98C836.82,-211.69 814.69,-198.94 797.81,-189.22"/>
<polygon fill="#63b8ff" stroke="#63b8ff" points="799.46,-186.13 789.05,-184.17 795.97,-192.19 799.46,-186.13"/>
</g>
<g id="edge53" class="edge">
<path fill="none" stroke="#63b8ff" d="M783.96,-164.98C793.13,-157.15 806.94,-145.34 818.03,-135.86"/>
<polygon fill="#63b8ff" stroke="#63b8ff" points="820.53,-138.33 825.86,-129.17 815.98,-133.01 820.53,-138.33"/>
</g>
<g id="edge52" class="edge">
<path fill="none" stroke="#63b8ff" d="M733.67,-164.98C690.16,-155.8 620.8,-141.15 573.65,-131.19"/>
<polygon fill="#63b8ff" stroke="#63b8ff" points="574.15,-127.72 563.64,-129.08 572.7,-134.57 574.15,-127.72"/>
</g>
<g id="edge58" class="edge">
<path fill="none" stroke="#63b8ff" d="M924.53,-274.98C936.4,-266.92 954.46,-254.65 968.61,-245.03"/>
<polygon fill="#63b8ff" stroke="#63b8ff" points="970.94,-247.69 977.24,-239.17 967,-241.9 970.94,-247.69"/>
</g>
<g id="edge59" class="edge">
<path fill="none" stroke="#63b8ff" d="M904.4,-274.75C897.84,-267.18 888.18,-256.05 880.19,-246.84"/>
<polygon fill="#63b8ff" stroke="#63b8ff" points="882.65,-244.35 873.45,-239.09 877.37,-248.94 882.65,-244.35"/>
</g>
<g id="edge65" class="edge">
<path fill="none" stroke="#63b8ff" d="M1488.29,-166.12C1485.15,-165.71 1482.03,-165.33 1479,-165 1258.92,-140.72 994.92,-127.39 886.37,-122.59"/>
<polygon fill="#63b8ff" stroke="#63b8ff" points="886.5,-119.09 876.35,-122.15 886.19,-126.08 886.5,-119.09"/>
</g>
<g id="edge66" class="edge">
<path fill="none" stroke="#63b8ff" d="M1521.91,-164.97C1481.34,-138.51 1357.37,-57.68 1306.81,-24.72"/>
<polygon fill="#63b8ff" stroke="#63b8ff" points="1308.55,-21.68 1298.26,-19.15 1304.73,-27.54 1308.55,-21.68"/>
</g>
<g id="edge67" class="edge">
<path fill="none" stroke="#63b8ff" d="M1514.32,-164.94C1482.56,-151.99 1419.72,-127.12 1365,-110 1315.79,-94.6 1257.57,-80.62 1222.24,-72.59"/>
<polygon fill="#63b8ff" stroke="#63b8ff" points="1222.56,-69.08 1212.04,-70.3 1221.03,-75.91 1222.56,-69.08"/>
</g>
<g id="edge70" class="edge">
<path fill="none" stroke="#63b8ff" d="M457.78,-219.63C446.39,-206.28 428.76,-180.9 443,-165 491.63,-110.71 696.62,-137.59 769,-129 774.46,-128.35 780.16,-127.66 785.84,-126.95"/>
<polygon fill="#63b8ff" stroke="#63b8ff" points="786.49,-130.4 795.98,-125.69 785.62,-123.45 786.49,-130.4"/>
</g>
<g id="edge69" class="edge">
<path fill="none" stroke="#63b8ff" d="M405.86,-227.49C290.07,-224.48 51.17,-212.5 94,-165 117.73,-138.68 340.91,-126.96 455.62,-122.63"/>
<polygon fill="#63b8ff" stroke="#63b8ff" points="455.83,-126.12 465.7,-122.26 455.58,-119.13 455.83,-126.12"/>
</g>
<g id="edge71" class="edge">
<path fill="none" stroke="#63b8ff" d="M473.1,-219.75C479.17,-212.26 488.09,-201.28 495.51,-192.13"/>
<polygon fill="#63b8ff" stroke="#63b8ff" points="498.45,-194.06 502.03,-184.09 493.01,-189.65 498.45,-194.06"/>
</g>
</g>
</svg></body></html>
